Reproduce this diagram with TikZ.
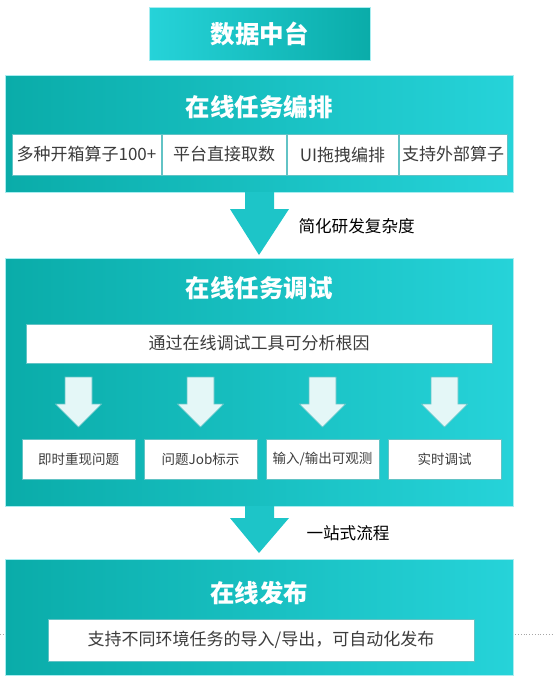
\documentclass[tikz,border=0pt]{standalone}
\usepackage{fontspec}
\setmainfont{Noto Sans CJK SC}
\usepackage{tikz}
\usetikzlibrary{positioning,calc}
\definecolor{tealdark}{HTML}{0AACA9}
\definecolor{teallight}{HTML}{26D3D9}
\definecolor{arrowteal}{HTML}{1DC5C8}
\definecolor{paleteal}{HTML}{E4F7F7}
\definecolor{edgeteal}{HTML}{62C3C5}
\definecolor{cellgray}{HTML}{3C3C3C}

\begin{document}
\begin{tikzpicture}[x=1pt, y=1pt,
    band/.style={left color=tealdark, right color=teallight, draw=teallight!40,
                 line width=0.6pt, minimum width=508, inner sep=0, outer sep=0},
    head/.style={font=\bfseries\fontsize{24.5}{28}\selectfont, text=white},
    cell/.style={draw=edgeteal, fill=white, line width=0.8pt, text=cellgray,
                 font=\fontsize{17}{20}\selectfont, inner sep=0, outer sep=0},
    smallcell/.style={cell, font=\fontsize{13.5}{16}\selectfont,
                 minimum width=113, minimum height=40},
    bigarr/.style={fill=arrowteal},
    smallarr/.style={fill=paleteal, draw=edgeteal, line width=0.6pt},
    note/.style={font=\fontsize{16.6}{19}\selectfont, text=black, anchor=west}]
  \useasboundingbox (0,0) rectangle (553,-686);
  % stray dotted rule behind the last band
  \coordinate (rulel) at (0,-634);
  \coordinate (ruler) at (553,-634);
  \draw[gray!70, dotted, line width=0.8pt] (rulel) -- (ruler);

  \node[left color=teallight, right color=tealdark, draw=teallight!40, line width=0.6pt,
        minimum width=221, minimum height=53, head] (hub) at (259.5,-33.5) {数据中台};

  % orchestration
  \node[band, minimum height=117] (orch) at (259,-133.5) {};
  \node[head] (orcht) at ($(orch.north)+(0,-32)$) {在线任务编排};
  \node[cell, minimum width=149, minimum height=41, anchor=west] (o1) at (12,-154.5) {多种开箱算子100+};
  \node[cell, minimum width=124, minimum height=41, right=1pt of o1] (o2) {平台直接取数};
  \node[cell, minimum width=111, minimum height=41, right=1pt of o2] (o3) {UI拖拽编排};
  \node[cell, minimum width=108, minimum height=41, right=1pt of o3] (o4) {支持外部算子};

  % debugging
  \node[band, minimum height=248] (debug) at (259,-382) {};
  \node[head] (debugt) at ($(debug.north)+(0,-30)$) {在线任务调试};
  \node[cell, minimum width=466, minimum height=39] (cause) at (259,-343.5) {通过在线调试工具可分析根因};
  \node[smallcell] (d1) at (78.5,-459) {即时重现问题};
  \node[smallcell, right=9pt of d1] (d2) {问题Job标示};
  \node[smallcell, right=9pt of d2] (d3) {输入/输出可观测};
  \node[smallcell, right=9pt of d3] (d4) {实时调试};
  \foreach \i in {1,...,4}
    \draw[smallarr] ($(cause.south -| d\i.north)+(-13.5,-14)$) -- ++(0,-27) -- ++(-9.5,0)
      -- ++(23,-23) -- ++(23,23) -- ++(-9.5,0) -- ++(0,27) -- cycle;

  % release
  \node[band, minimum height=116] (release) at (259,-617) {};
  \node[head] (releaset) at ($(release.north)+(0,-34)$) {在线发布};
  \node[cell, minimum width=426, minimum height=42] (export) at (261,-640)
    {支持不同环境任务的导入/导出，可自动化发布};

  % flow arrows
  \fill[bigarr] ($(orch.south)+(-14,0)$) -- ++(0,-17) -- ++(-15,0)
    -- ($(debug.north)+(0,3)$) -- ($(orch.south)+(30,-17)$) -- ++(-15,0)
    -- ++(0,17) -- cycle;
  \node[note] (simplify) at (295,-226) {简化研发复杂度};
  \fill[bigarr] ($(debug.south)+(-14,0)$) -- ++(0,-12) -- ++(-15,0)
    -- ($(release.north)+(0,6)$) -- ($(debug.south)+(30,-12)$) -- ++(-15,0)
    -- ++(0,12) -- cycle;
  \node[note] (onestop) at (303,-533) {一站式流程};
\end{tikzpicture}
\end{document}
